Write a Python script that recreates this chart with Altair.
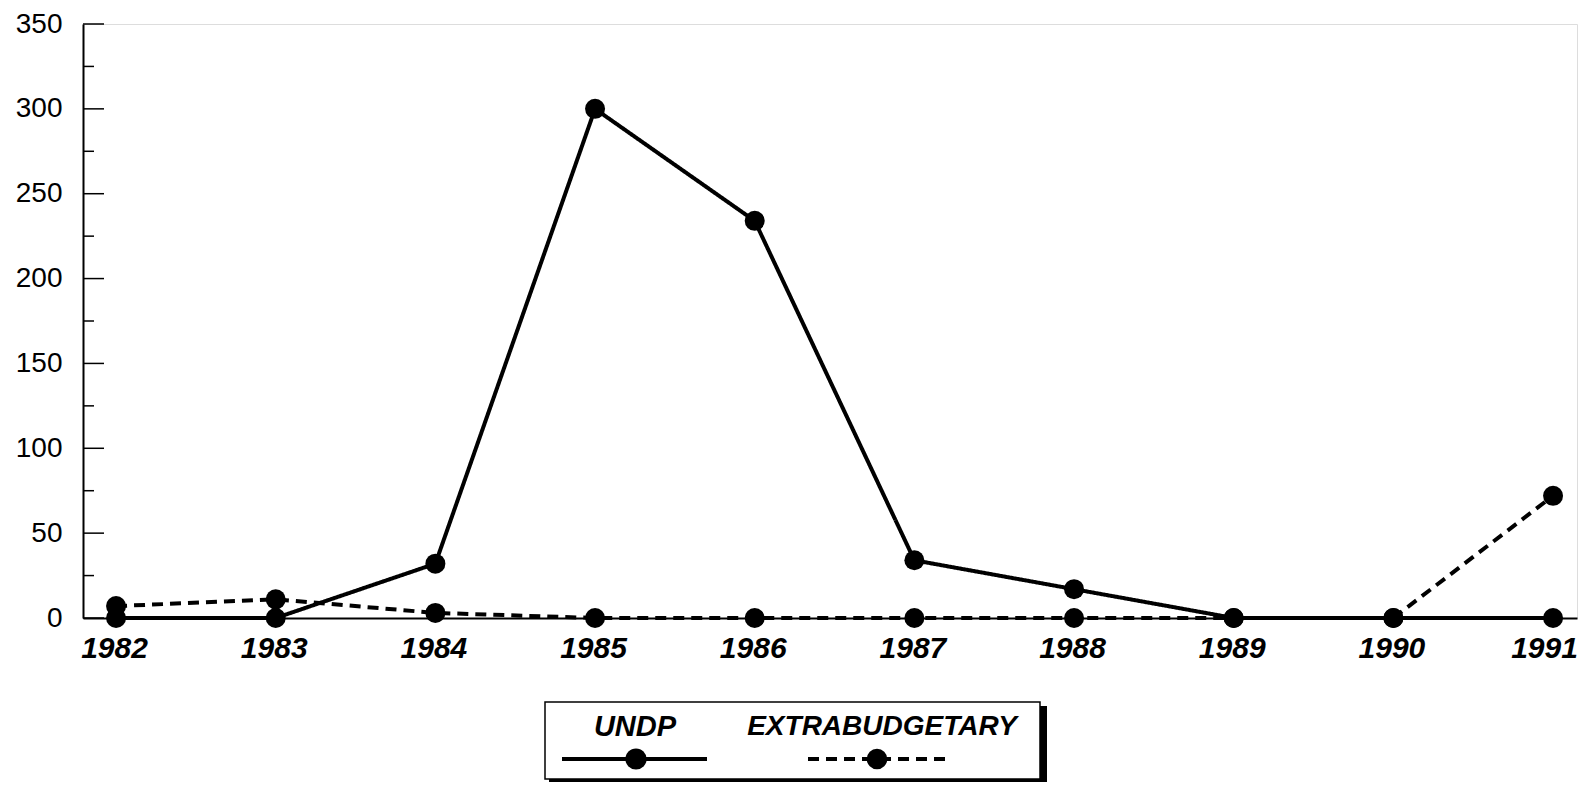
import altair as alt
import pandas as pd

years = list(range(1982, 1992))
undp = [0, 0, 32, 300, 234, 34, 17, 0, 0, 0]
extra = [7, 11, 3, 0, 0, 0, 0, 0, 0, 72]
series_names = ["UNDP", "EXTRABUDGETARY"]
y_major = [0, 50, 100, 150, 200, 250, 300, 350]
y_minor = [25, 75, 125, 175, 225, 275, 325]

W, H = 1494, 594
FONT = "Liberation Sans"

df = pd.DataFrame({
    "year": years * 2,
    "value": undp + extra,
    "series": [series_names[0]] * len(years) + [series_names[1]] * len(years),
})

xscale = alt.Scale(domain=[1981.793, 1991.15], nice=False, zero=False)
yscale = alt.Scale(domain=[0, 350], nice=False)

x_axis = alt.Axis(values=years, format="d", title=None, tickSize=0, grid=False,
                  labelFont=FONT, labelFontSize=30, labelFontStyle="italic",
                  labelFontWeight="bold", labelPadding=15, labelColor="black",
                  labelFlush=False, labelOverlap=False, labelBound=False,
                  labelOffset={"condition": {"test": "datum.value == 1991", "value": -9}, "value": -2},
                  domainColor="black", domainWidth=2)
y_axis = alt.Axis(values=y_major, title=None, tickSize=0, grid=False,
                  labelFont=FONT, labelFontSize=28, labelPadding=21,
                  labelColor="black", domainColor="black", domainWidth=2)

base = alt.Chart(df)

lines = base.mark_line(color="black", strokeWidth=4).encode(
    x=alt.X("year:Q", scale=xscale, axis=x_axis),
    y=alt.Y("value:Q", scale=yscale, axis=y_axis),
    detail="series:N",
    strokeDash=alt.StrokeDash("series:N", scale=alt.Scale(domain=series_names, range=[[1, 0], [11, 7]]), legend=None),
)
points = base.mark_circle(color="black", opacity=1, size=400).encode(
    x=alt.X("year:Q", scale=xscale),
    y=alt.Y("value:Q", scale=yscale),
)

ymaj = alt.Chart(pd.DataFrame({"v": y_major})).mark_rule(color="black", strokeWidth=1.5).encode(
    y=alt.Y("v:Q", scale=yscale), x=alt.value(0), x2=alt.value(21))
ymin = alt.Chart(pd.DataFrame({"v": y_minor})).mark_rule(color="black", strokeWidth=1.5).encode(
    y=alt.Y("v:Q", scale=yscale), x=alt.value(0), x2=alt.value(11))
xt = alt.Chart(pd.DataFrame({"year": years})).mark_rule(color="black", strokeWidth=1.5).encode(
    x=alt.X("year:Q", scale=xscale), y=alt.value(H - 8), y2=alt.value(H))

one = pd.DataFrame({"a": [0]})
shadow = alt.Chart(one).mark_rect(color="black").encode(
    x=alt.value(466), x2=alt.value(964), y=alt.value(682), y2=alt.value(758))
box = alt.Chart(one).mark_rect(fill="white", stroke="black", strokeWidth=1.5).encode(
    x=alt.value(462), x2=alt.value(957), y=alt.value(678), y2=alt.value(755))

t1 = alt.Chart(pd.DataFrame({"label": [series_names[0]]})).mark_text(
    font=FONT, fontSize=29, fontStyle="italic", fontWeight="bold", color="black",
    align="center", baseline="middle").encode(text="label:N", x=alt.value(552), y=alt.value(703))
t2 = alt.Chart(pd.DataFrame({"label": [series_names[1]]})).mark_text(
    font=FONT, fontSize=28, fontStyle="italic", fontWeight="bold", color="black",
    align="center", baseline="middle").encode(text="label:N", x=alt.value(799), y=alt.value(703))

l1 = alt.Chart(one).mark_rule(color="black", strokeWidth=4).encode(
    x=alt.value(479), x2=alt.value(624), y=alt.value(735))
l2 = alt.Chart(one).mark_rule(color="black", strokeWidth=4, strokeDash=[11, 7]).encode(
    x=alt.value(725), x2=alt.value(862), y=alt.value(735))
c1 = alt.Chart(one).mark_circle(color="black", opacity=1, size=450).encode(
    x=alt.value(553), y=alt.value(735))
c2 = alt.Chart(one).mark_circle(color="black", opacity=1, size=420).encode(
    x=alt.value(794), y=alt.value(735))

chart = alt.layer(ymaj, ymin, xt, lines, points, shadow, box, t1, t2, l1, l2, c1, c2).properties(
    width=W, height=H,
    autosize=alt.AutoSizeParams(type="none"),
    padding={"left": 75, "top": 16, "right": 3, "bottom": 165},
).configure_view(stroke="black", strokeWidth=1.5).configure(background="white")

chart.save("out.html", embed_options={"renderer": "svg", "actions": False})
